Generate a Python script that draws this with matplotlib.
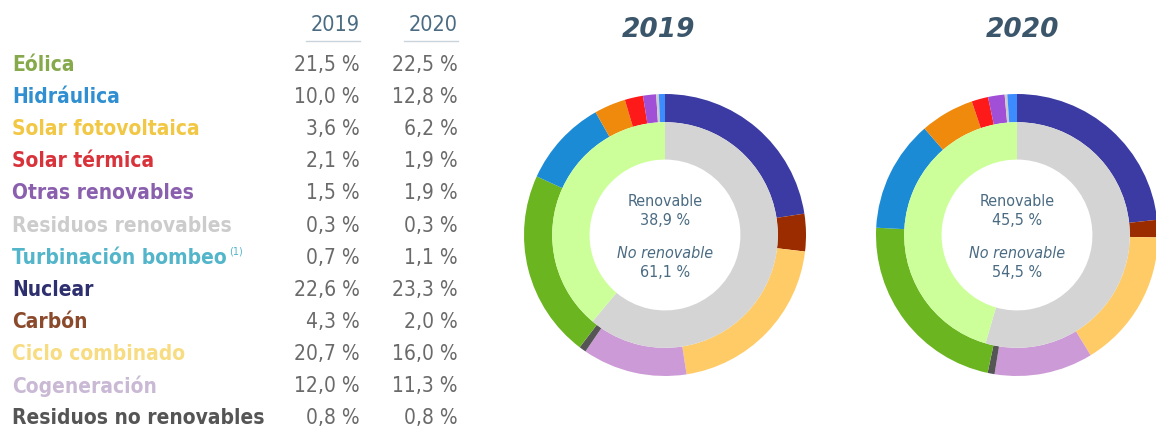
import matplotlib.pyplot as plt
from matplotlib import font_manager

# Generation mix by technology (% of total)
technologies = ["Eólica", "Hidráulica", "Solar fotovoltaica", "Solar térmica",
                "Otras renovables", "Residuos renovables", "Turbinación bombeo",
                "Nuclear", "Carbón", "Ciclo combinado", "Cogeneración",
                "Residuos no renovables"]
share_2019 = [21.5, 10.0, 3.6, 2.1, 1.5, 0.3, 0.7, 22.6, 4.3, 20.7, 12.0, 0.8]
share_2020 = [22.5, 12.8, 6.2, 1.9, 1.9, 0.3, 1.1, 23.3, 2.0, 16.0, 11.3, 0.8]
years = ["2019", "2020"]

# Renewable / non-renewable totals
renewable = [38.9, 45.5]
non_renewable = [61.1, 54.5]

label_colors = ["#86a94b", "#2f8fd0", "#f2c744", "#d8323a", "#8a5fae", "#cccccc",
                "#52b5ca", "#2e2f6e", "#8b4a2b", "#f7dc82", "#c9b9d5", "#555555"]
ring_colors = ["#6ab520", "#1b8bd6", "#f08a0c", "#ff1a1a", "#a04fd6", "#cccccc",
               "#3d8cff", "#3b3ba3", "#9a2c00", "#ffcb66", "#cc9ad6", "#555555"]

# condensed face if there is one
cond = [f for f in font_manager.fontManager.ttflist
        if f.name == "DejaVu Sans" and f.stretch == "condensed"]
stretch = "condensed" if cond else "normal"
fam = "DejaVu Sans"

W, H = 1156, 430
fig = plt.figure(figsize=(W / 100, H / 100), dpi=100)

# ---- table on the left, in pixel coordinates ----
tab = fig.add_axes([0, 0, 1, 1])
tab.set_xlim(0, W)
tab.set_ylim(H, 0)
tab.axis("off")

head_color = "#4a6b82"
col_right = [360, 458]
for yr, xr in zip(years, col_right):
    tab.text(xr, 25, yr, ha="right", va="center", fontsize=15.5, color=head_color,
             family=fam, stretch=stretch)
    tab.plot([xr - 54, xr], [41, 41], color="#c8d3dc", lw=1)

row0, step = 65, 32.1
for i, name in enumerate(technologies):
    y = row0 + step * i
    t = tab.text(12, y, name, ha="left", va="center", fontsize=15,
                 fontweight="bold", color=label_colors[i], family=fam,
                 stretch=stretch)
    if name == "Turbinación bombeo":
        tab.annotate("(1)", xy=(1, 0.8), xycoords=t, xytext=(2, 0),
                     textcoords="offset points", fontsize=7,
                     color=label_colors[i], family=fam, va="center")
    for vals, xr in zip([share_2019, share_2020], col_right):
        txt = f"{vals[i]:.1f} %".replace(".", ",")
        tab.text(xr, y, txt, ha="right", va="center", fontsize=15,
                 color="#6a6a6a", family=fam, stretch=stretch)

# ---- donuts ----
centers = [(665, 235), (1017, 235)]
title_x = [659, 1023]
radius_px = 141
box = 300
for k, (cx, cy) in enumerate(centers):
    ax = fig.add_axes([(cx - box / 2) / W, 1 - (cy + box / 2) / H, box / W, box / H])
    lim = box / 2 / radius_px
    vals = share_2019 if k == 0 else share_2020
    # outer ring: clockwise from the top, non-renewables first
    order = [7, 8, 9, 10, 11, 0, 1, 2, 3, 4, 5, 6]
    ax.pie([vals[j] for j in order], colors=[ring_colors[j] for j in order],
           radius=1.0, startangle=90, counterclock=False,
           wedgeprops=dict(width=0.2, linewidth=0))
    ax.pie([non_renewable[k], renewable[k]], colors=["#d4d4d4", "#ccff99"],
           radius=0.8, startangle=90, counterclock=False,
           wedgeprops=dict(width=0.265, linewidth=0))
    ax.set_xlim(-lim, lim)
    ax.set_ylim(-lim, lim)
    ax.set_aspect("equal")
    ax.axis("off")

    ren = f"{renewable[k]:.1f} %".replace(".", ",")
    non = f"{non_renewable[k]:.1f} %".replace(".", ",")
    kw = dict(ha="center", va="center", fontsize=11.5, color=head_color,
              family=fam, stretch=stretch)
    ax.text(0, 0.24, "Renovable", **kw)
    ax.text(0, 0.105, ren, **kw)
    ax.text(0, -0.13, "No renovable", style="italic", **kw)
    ax.text(0, -0.265, non, **kw)

    tab.text(title_x[k], 30, years[k], ha="center", va="center", fontsize=19,
             fontweight="bold", style="italic", color="#3b566b")

fig.savefig("out.png", dpi=100, facecolor="white")
